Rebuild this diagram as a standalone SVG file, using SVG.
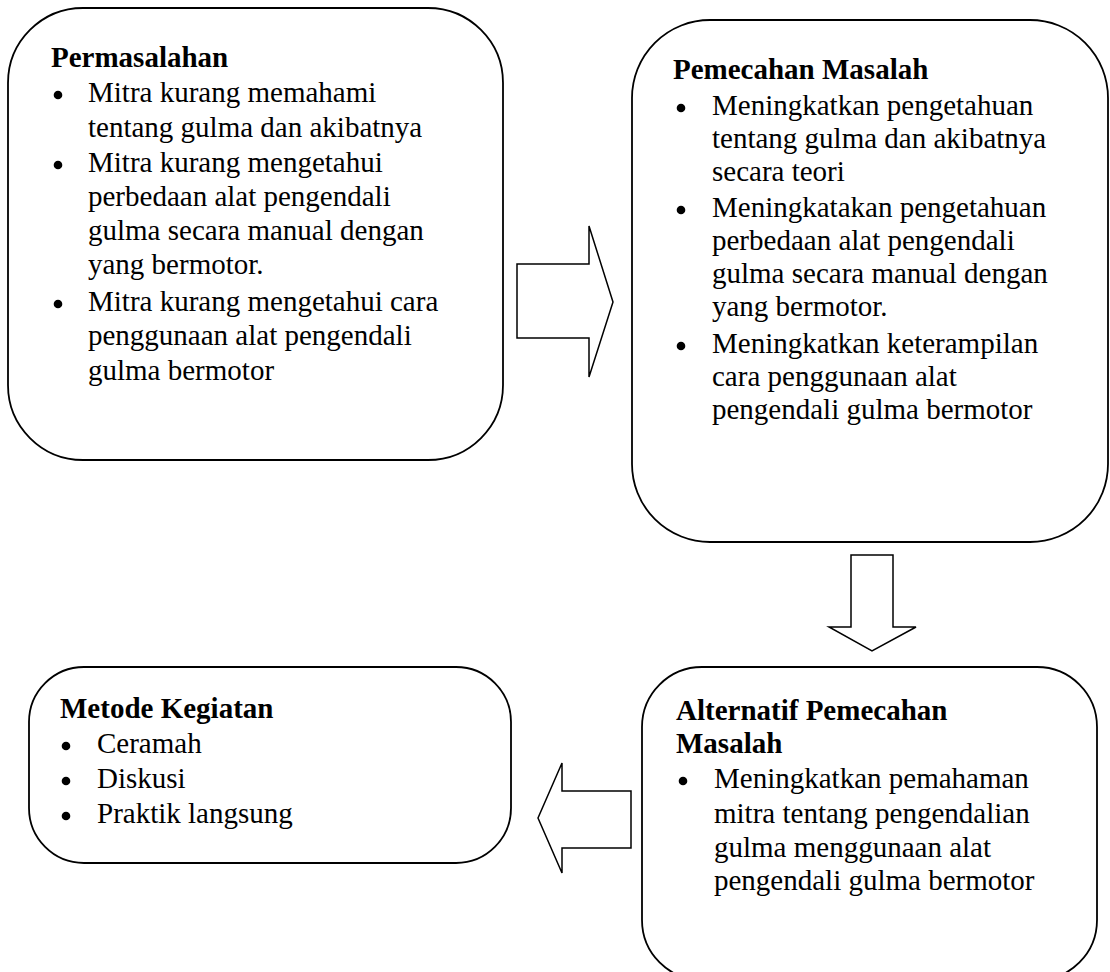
<svg xmlns="http://www.w3.org/2000/svg" width="1110" height="972" viewBox="0 0 1110 972">
<style>
.box{fill:#fff;stroke:#000;stroke-width:1.8}
.arr{fill:#fff;stroke:#000;stroke-width:1.5;stroke-linejoin:miter}
.dot{fill:#000}
text{font-family:"Liberation Serif","Times New Roman",serif;font-size:29px;fill:#000}
.t{font-weight:bold}
</style>
<rect width="1110" height="972" fill="#fff"/>
<g id="connectors">
<path class="arr" d="M517,264 H589 V226 L613,302 L589,377 V338 H517 Z"/>
<path class="arr" d="M851,555 H893 V627 H916 L872,651 L829,627 H851 Z"/>
<path class="arr" d="M631,791 H562 V763 L538,818 L562,873 V848 H631 Z"/>
</g>
<g id="permasalahan">
<rect class="box" x="8" y="8" width="495" height="452" rx="75" ry="75"/>
<text class="t" x="51" y="67">Permasalahan</text>
<circle class="dot" cx="58" cy="95" r="4.3"/><text x="88" y="102">Mitra kurang memahami</text>
<text x="88" y="137">tentang gulma dan akibatnya</text>
<circle class="dot" cx="58" cy="165" r="4.3"/><text x="88" y="172">Mitra kurang mengetahui</text>
<text x="88" y="206">perbedaan alat pengendali</text>
<text x="88" y="240">gulma secara manual dengan</text>
<text x="88" y="274">yang bermotor.</text>
<circle class="dot" cx="58" cy="304" r="4.3"/><text x="88" y="311">Mitra kurang mengetahui cara</text>
<text x="88" y="345">penggunaan alat pengendali</text>
<text x="88" y="380">gulma bermotor</text>
</g>
<g id="pemecahan">
<rect class="box" x="632" y="20" width="476" height="522" rx="78" ry="78"/>
<text class="t" x="673" y="79">Pemecahan Masalah</text>
<circle class="dot" cx="681" cy="108" r="4.3"/><text x="712" y="115">Meningkatkan pengetahuan</text>
<text x="712" y="148">tentang gulma dan akibatnya</text>
<text x="712" y="181">secara teori</text>
<circle class="dot" cx="681" cy="210" r="4.3"/><text x="712" y="217">Meningkatakan pengetahuan</text>
<text x="712" y="250">perbedaan alat pengendali</text>
<text x="712" y="283">gulma secara manual dengan</text>
<text x="712" y="316">yang bermotor.</text>
<circle class="dot" cx="681" cy="346" r="4.3"/><text x="712" y="353">Meningkatkan keterampilan</text>
<text x="712" y="386">cara penggunaan alat</text>
<text x="712" y="419">pengendali gulma bermotor</text>
</g>
<g id="alternatif">
<rect class="box" x="642" y="667" width="455" height="313" rx="60" ry="60"/>
<text class="t" x="676" y="720">Alternatif Pemecahan</text>
<text class="t" x="676" y="753">Masalah</text>
<circle class="dot" cx="683" cy="781" r="4.3"/><text x="714" y="788">Meningkatkan pemahaman</text>
<text x="714" y="823">mitra tentang pengendalian</text>
<text x="714" y="857">gulma menggunaan alat</text>
<text x="714" y="890">pengendali gulma bermotor</text>
</g>
<g id="metode">
<rect class="box" x="29" y="667" width="482" height="196" rx="55" ry="55"/>
<text class="t" x="60" y="718">Metode Kegiatan</text>
<circle class="dot" cx="66" cy="746" r="4.3"/><text x="97" y="753">Ceramah</text>
<circle class="dot" cx="66" cy="781" r="4.3"/><text x="97" y="788">Diskusi</text>
<circle class="dot" cx="66" cy="816" r="4.3"/><text x="97" y="823">Praktik langsung</text>
</g>
</svg>
